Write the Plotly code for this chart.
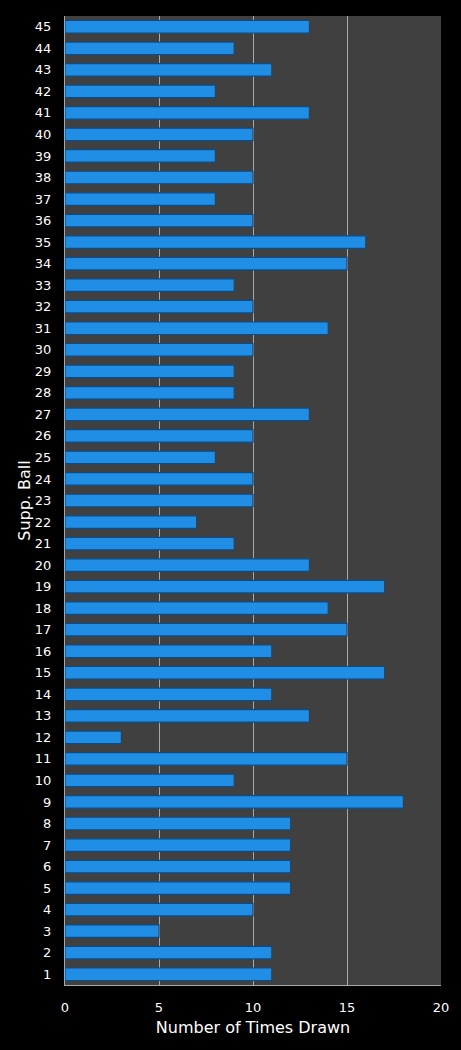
import plotly.graph_objects as go

# Supplementary ball numbers and how often each was drawn
balls = list(range(1, 46))
times_drawn = [11, 11, 5, 10, 12, 12, 12, 12, 18, 9,
               15, 3, 13, 11, 17, 11, 15, 14, 17, 13,
               9, 7, 10, 10, 8, 10, 13, 9, 9, 10,
               14, 10, 9, 15, 16, 10, 8, 10, 8, 10,
               13, 8, 11, 9, 13]

x_ticks = [0, 5, 10, 15, 20]

fig = go.Figure(go.Bar(
    x=times_drawn,
    y=balls,
    orientation='h',
    width=0.58,
    marker=dict(color='#218EE6', line=dict(color='#0C4C86', width=1.2)),
    hoverinfo='x+y',
))

fig.update_layout(
    width=461,
    height=1050,
    margin=dict(l=65, r=20, t=16, b=65),
    paper_bgcolor='black',
    plot_bgcolor='#404040',
    font=dict(family='DejaVu Sans, Verdana, sans-serif', size=13, color='white'),
    showlegend=False,
)

fig.update_xaxes(
    range=[0, 20],
    tickvals=x_ticks,
    showgrid=True,
    gridcolor='#A8A8A8',
    gridwidth=1,
    zeroline=False,
    showline=True,
    linecolor='#A8A8A8',
    ticks='outside',
    ticklen=10,
    tickcolor='black',
    title=dict(text='Number of Times Drawn', font=dict(size=16), standoff=8),
    tickfont=dict(size=13),
)

fig.update_yaxes(
    range=[0.5, 45.5],
    tickmode='array',
    tickvals=balls,
    showgrid=False,
    zeroline=False,
    showline=True,
    linecolor='#A8A8A8',
    ticks='outside',
    ticklen=10,
    tickcolor='black',
    title=dict(text='Supp. Ball', font=dict(size=16), standoff=0),
    tickfont=dict(size=13),
)

fig.write_html("out.html", config={'displayModeBar': False},
               post_script="document.body.style.margin='0';")
